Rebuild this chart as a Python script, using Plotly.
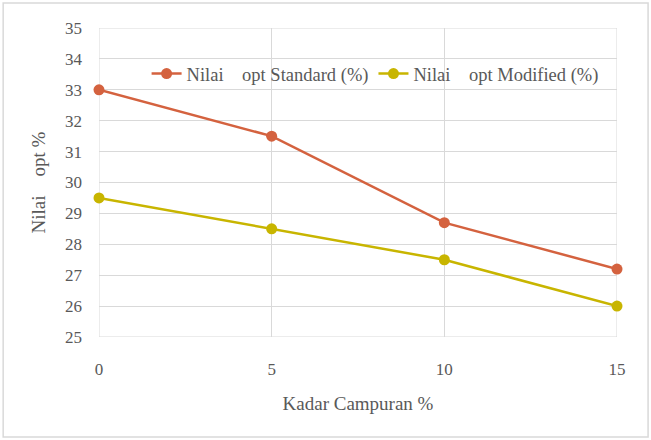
import plotly.graph_objects as go

kadar = [0, 5, 10, 15]
standard = [33.0, 31.5, 28.7, 27.2]
modified = [29.5, 28.5, 27.5, 26.0]
y_ticks = list(range(25, 36))
name_std = "Nilai \u00a0\u00a0\u00a0opt Standard (%)"
name_mod = "Nilai \u00a0\u00a0\u00a0opt Modified (%)"

FAM = "Liberation Serif"
GRAY = "#595959"

fig = go.Figure()
fig.add_trace(go.Scatter(x=kadar, y=standard, name=name_std, mode="lines+markers",
                         line=dict(color="#D4623F", width=2.5), cliponaxis=False,
                         marker=dict(color="#D4623F", size=11)))
fig.add_trace(go.Scatter(x=kadar, y=modified, name=name_mod, mode="lines+markers",
                         line=dict(color="#C8B500", width=2.5), cliponaxis=False,
                         marker=dict(color="#C8B500", size=11)))

fig.update_layout(
    width=651, height=440,
    margin=dict(l=99, r=34, t=28, b=103),
    paper_bgcolor="white", plot_bgcolor="white",
    font=dict(family=FAM, size=17, color=GRAY),
    showlegend=True,
    legend=dict(orientation="h", x=0.533, xanchor="center", y=0.851, yanchor="middle",
                bgcolor="rgba(0,0,0,0)", font=dict(family=FAM, size=18.5, color=GRAY),
                tracegroupgap=0),
    xaxis=dict(range=[0, 15], tickvals=kadar, ticktext=[str(k) for k in kadar],
               showgrid=True, gridcolor="#D9D9D9", gridwidth=1,
               zeroline=False, showline=False, ticks="", ticklabelstandoff=20,
               tickfont=dict(family=FAM, size=17, color=GRAY),
               title=dict(text="Kadar Campuran %", standoff=18,
                          font=dict(family=FAM, size=19, color=GRAY))),
    yaxis=dict(range=[25, 35], tickvals=y_ticks,
               showgrid=True, gridcolor="#D9D9D9", gridwidth=1,
               zeroline=False, showline=False, ticks="", ticklabelstandoff=16,
               tickfont=dict(family=FAM, size=17, color=GRAY),
               title=dict(text="Nilai \u00a0\u00a0\u00a0opt %", standoff=14,
                          font=dict(family=FAM, size=19, color=GRAY))),
    shapes=[
        dict(type="rect", xref="x", yref="y", x0=0, x1=15, y0=25, y1=35,
             line=dict(color="#D9D9D9", width=1), layer="below"),
        dict(type="rect", xref="paper", yref="paper", x0=-0.185, x1=1.06, y0=-0.324, y1=1.081,
             line=dict(color="#D9D9D9", width=1.5), layer="below"),
    ],
)

fig.write_html("out.html")
